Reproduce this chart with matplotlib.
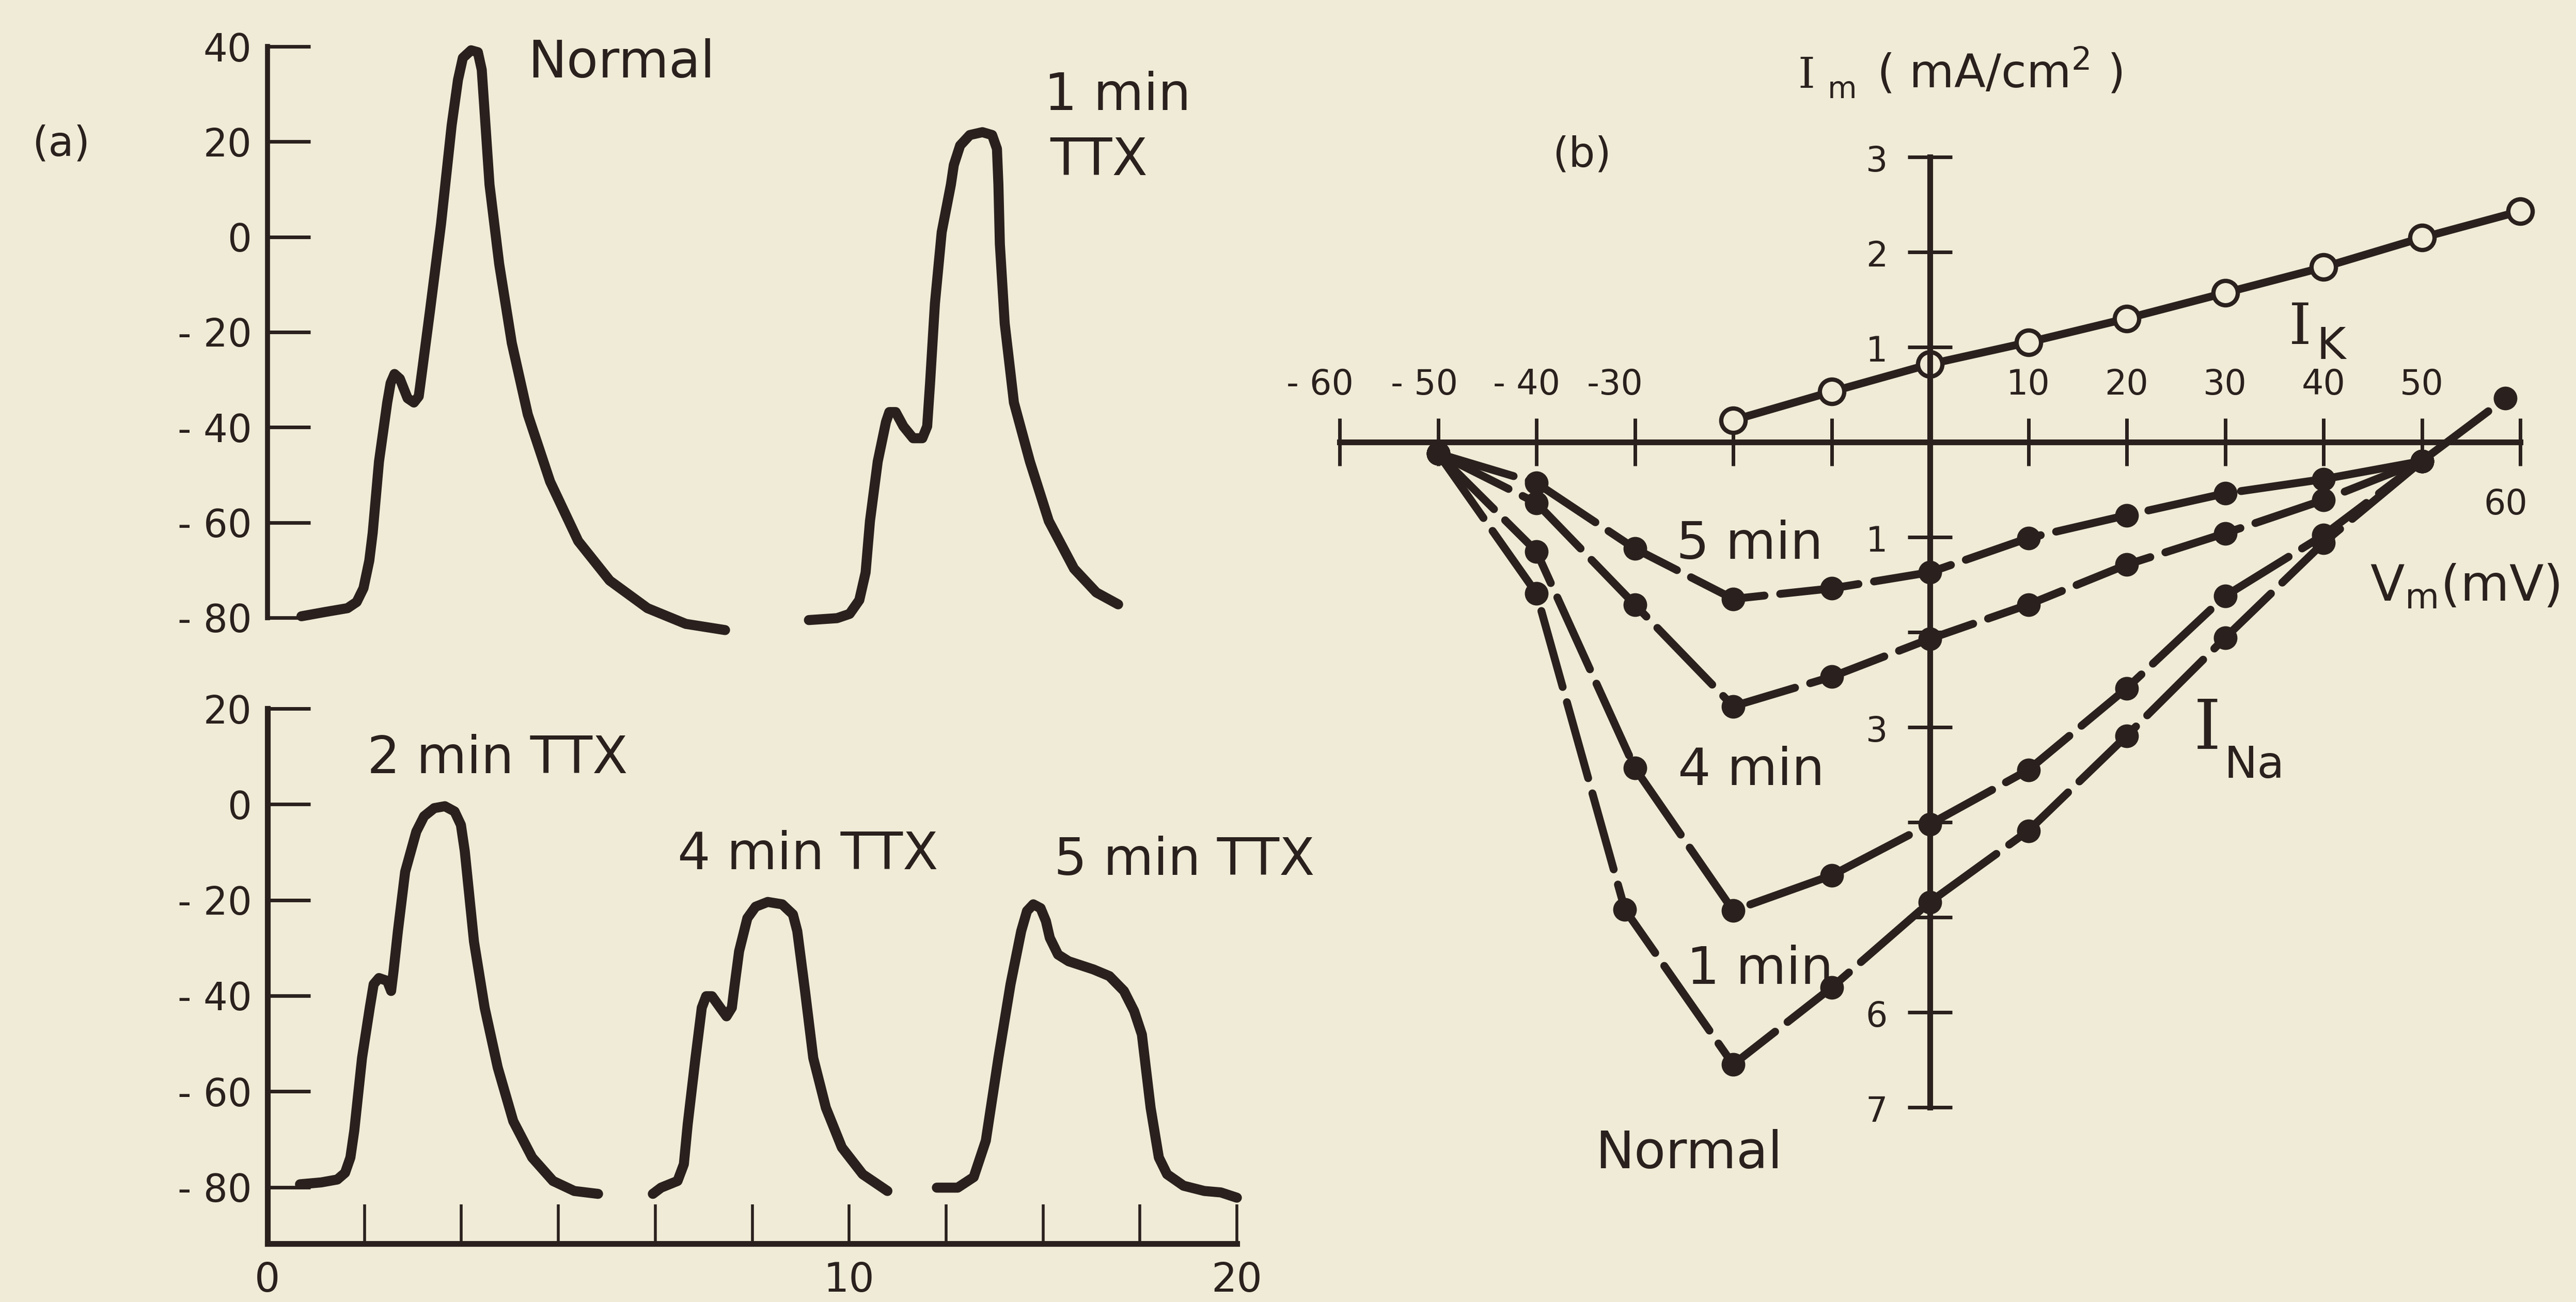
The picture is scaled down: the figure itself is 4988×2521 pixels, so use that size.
import numpy as np
import matplotlib.pyplot as plt

BG = '#efebd6'
INK = '#2a211e'

# ---- panel (a): action potentials (time in tick units, V in mV) ----
t_normal = [0.70, 1.19, 1.65, 1.84, 1.98, 2.10, 2.17, 2.30, 2.47, 2.54, 2.62, 2.73, 2.89, 3.02, 3.12,
            3.18, 3.35, 3.58, 3.80, 3.93, 4.03, 4.20, 4.34, 4.42, 4.47, 4.58, 4.78, 5.04, 5.37, 5.83,
            6.41, 7.06, 7.84, 8.63, 9.44]
v_normal = [-79.7, -78.8, -78.0, -76.7, -73.8, -68.0, -62.2, -47.2, -34.8, -30.7, -28.8, -29.8, -33.9,
            -34.8, -33.5, -28.9, -15.7, 2.7, 23.5, 33.0, 37.6, 39.2, 38.8, 35.1, 27.6, 11.0, -5.7,
            -22.3, -37.3, -51.4, -63.9, -72.2, -78.0, -81.3, -82.6]

t_1min = [11.17, 11.75, 12.01, 12.21, 12.34, 12.43, 12.59, 12.76, 12.83, 12.96, 13.12, 13.32, 13.51,
          13.61, 13.67, 13.77, 13.91, 14.10, 14.16, 14.29, 14.49, 14.75, 14.95, 15.05, 15.08, 15.11,
          15.21, 15.40, 15.73, 16.12, 16.64, 17.10, 17.55]
v_1min = [-80.5, -80.1, -79.2, -76.3, -70.5, -59.7, -47.2, -38.9, -36.8, -36.8, -39.8, -42.3, -42.3,
          -39.8, -30.7, -14.0, 1.0, 11.0, 15.1, 19.2, 21.4, 22.0, 21.4, 18.5, 11.0, -1.5, -18.2,
          -34.8, -47.2, -59.7, -69.7, -74.7, -77.2]

t_2min = [0.67, 1.11, 1.44, 1.60, 1.71, 1.79, 1.95, 2.11, 2.19, 2.30, 2.47, 2.55, 2.60, 2.69, 2.84,
          3.07, 3.23, 3.44, 3.66, 3.86, 3.99, 4.07, 4.26, 4.48, 4.75, 5.07, 5.46, 5.89, 6.33, 6.82]
v_2min = [-79.4, -79.0, -78.4, -77.0, -73.8, -68.2, -53.0, -42.5, -37.6, -36.3, -36.9, -39.0, -34.9,
          -26.5, -14.1, -5.7, -2.5, -0.8, -0.4, -1.5, -4.3, -9.8, -28.7, -42.5, -55.0, -66.2, -73.8,
          -78.7, -80.8, -81.4]

t_4min = [7.95, 8.12, 8.46, 8.59, 8.67, 8.83, 8.96, 9.05, 9.17, 9.34, 9.47, 9.58, 9.64, 9.73, 9.90,
          10.07, 10.32, 10.62, 10.84, 10.93, 11.09, 11.26, 11.52, 11.85, 12.28, 12.79]
v_4min = [-81.4, -80.1, -78.7, -75.2, -66.8, -53.0, -42.5, -40.1, -40.1, -42.5, -44.3, -42.5, -37.6,
          -30.7, -23.8, -21.4, -20.4, -20.9, -23.0, -26.5, -39.0, -53.0, -63.4, -71.7, -77.3, -80.8]

t_5min = [13.81, 14.24, 14.57, 14.82, 15.08, 15.33, 15.55, 15.67, 15.80, 15.95, 16.06, 16.14, 16.31,
          16.53, 17.04, 17.37, 17.67, 17.88, 18.04, 18.22, 18.39, 18.56, 18.90, 19.33, 19.67, 20.0]
v_5min = [-80.1, -80.1, -77.9, -70.3, -53.0, -37.6, -26.5, -22.3, -20.9, -21.7, -24.4, -27.9, -31.4,
          -32.8, -34.5, -35.9, -39.0, -43.2, -48.1, -63.4, -73.8, -77.3, -79.7, -80.8, -81.1, -82.2]

top_yticks = [40, 20, 0, -20, -40, -60, -80]
top_ylabels = ['40', '20', '0', '- 20', '- 40', '- 60', '- 80']
bot_yticks = [20, 0, -20, -40, -60, -80]
bot_ylabels = ['20', '0', '- 20', '- 40', '- 60', '- 80']
time_ticks = list(range(0, 21, 2))
time_labels = ['0', '', '', '', '', '', '10', '', '', '', '20']

# ---- panel (b): current-voltage relations ----
v_na = [-50, -40, -30, -20, -10, 0, 10, 20, 30, 40, 50]
ina_5min = [-0.12, -0.43, -1.12, -1.65, -1.54, -1.37, -1.01, -0.77, -0.54, -0.39, -0.2]
ina_4min = [-0.12, -0.64, -1.71, -2.78, -2.47, -2.07, -1.71, -1.29, -0.96, -0.61, -0.2]
ina_1min = [-0.12, -1.15, -3.43, -4.93, -4.56, -4.02, -3.45, -2.59, -1.62, -0.98, -0.2]
v_na_normal = [-50, -40, -31, -20, -10, 0, 10, 20, 30, 40, 50, 58.5]
ina_normal = [-0.12, -1.59, -4.92, -6.55, -5.74, -4.84, -4.09, -3.09, -2.06, -1.06, -0.2, 0.46]

v_k = [-20, -10, 0, 10, 20, 30, 40, 50, 60]
ik = [0.23, 0.53, 0.82, 1.05, 1.30, 1.57, 1.84, 2.15, 2.43]

vm_ticks = [-60, -50, -40, -30, -20, -10, 10, 20, 30, 40, 50, 60]
im_ticks = [-7, -6, -5, -4, -3, -2, -1, 1, 2, 3]

W, H = 4988, 2521


def box(x0, y0, x1, y1):
    # pixel box of the page -> figure fraction
    return [x0 / W, 1 - y1 / H, (x1 - x0) / W, (y1 - y0) / H]


fig = plt.figure(figsize=(W / 100, H / 100), dpi=100)
fig.patch.set_facecolor(BG)
plt.rcParams['font.family'] = 'DejaVu Sans'

trace = dict(color=INK, lw=14, solid_capstyle='round', solid_joinstyle='round', clip_on=False)
lab = dict(color=INK, fontsize=72, va='baseline', ha='left')

# top part of (a)
ax1 = fig.add_axes(box(518, 90, 2395, 1196))
ax1.set_facecolor('none')
ax1.plot(t_normal, v_normal, **trace)
ax1.plot(t_1min, v_1min, **trace)
ax1.set_xlim(0, 20)
ax1.set_ylim(-80, 40)
for s in ['top', 'right', 'bottom']:
    ax1.spines[s].set_visible(False)
ax1.spines['left'].set_linewidth(7)
ax1.spines['left'].set_color(INK)
ax1.set_xticks([])
ax1.set_yticks(top_yticks)
ax1.set_yticklabels(top_ylabels)
ax1.tick_params(axis='y', direction='in', length=60, width=5, pad=22, labelsize=53, colors=INK)
ax1.text(5.37, 33.5, 'Normal', **lab)
ax1.text(16.03, 26.7, '1 min', **lab)
ax1.text(16.15, 13.0, 'TTX', **lab)

# bottom part of (a)
ax2 = fig.add_axes(box(518, 1372, 2395, 2408))
ax2.set_facecolor('none')
ax2.plot(t_2min, v_2min, **trace)
ax2.plot(t_4min, v_4min, **trace)
ax2.plot(t_5min, v_5min, **trace)
ax2.set_xlim(0, 20)
ax2.set_ylim(-91.8, 20)
for s in ['top', 'right']:
    ax2.spines[s].set_visible(False)
for s in ['left', 'bottom']:
    ax2.spines[s].set_linewidth(8)
    ax2.spines[s].set_color(INK)
ax2.set_yticks(bot_yticks)
ax2.set_yticklabels(bot_ylabels)
ax2.set_xticks(time_ticks)
ax2.set_xticklabels(time_labels)
ax2.tick_params(axis='y', direction='in', length=60, width=5, pad=22, labelsize=53, colors=INK)
ax2.tick_params(axis='x', direction='in', length=55, width=4, pad=24, labelsize=56, colors=INK)
ax2.text(2.06, 6.5, '2 min TTX', **lab)
ax2.text(8.46, -13.6, '4 min TTX', **lab)
ax2.text(16.23, -14.8, '5 min TTX', **lab)

fig.text(118 / W, 1 - 279 / H, '(a)', fontsize=58, color=INK, ha='center', va='center')

# (b)
ax3 = fig.add_axes(box(2594, 304, 4880, 2144))
ax3.set_facecolor('none')
na_style = dict(color=INK, lw=11, ls=(0, (10, 2)), marker='o', ms=32, mfc=INK, mec=INK,
                dash_capstyle='round', clip_on=False)
ax3.plot(v_na, ina_5min, **na_style)
ax3.plot(v_na, ina_4min, **na_style)
ax3.plot(v_na, ina_1min, **na_style)
ax3.plot(v_na_normal, ina_normal, **na_style)
ax3.plot(v_k, ik, '-', color=INK, lw=11, marker='o', ms=34, mfc=BG, mec=INK, mew=6, clip_on=False)
ax3.set_xlim(-60, 60)
ax3.set_ylim(-7, 3)
for s in ['top', 'right']:
    ax3.spines[s].set_visible(False)
ax3.spines['left'].set_position(('data', 0))
ax3.spines['bottom'].set_position(('data', 0))
for s in ['left', 'bottom']:
    ax3.spines[s].set_linewidth(8)
    ax3.spines[s].set_color(INK)
ax3.set_xticks(vm_ticks)
ax3.set_yticks(im_ticks)
ax3.tick_params(axis='x', direction='inout', length=66, width=5, labelbottom=False, colors=INK)
ax3.tick_params(axis='y', direction='inout', length=62, width=5, labelleft=False, colors=INK)

num = dict(color=INK, fontsize=48)
for v, txt in [(-62.0, '- 60'), (-51.4, '- 50'), (-41.0, '- 40'), (-32.0, '-30'),
               (10, '10'), (20, '20'), (30, '30'), (40, '40'), (50, '50')]:
    ax3.text(v, 0.5, txt, ha='center', va='baseline', **num)
ax3.text(58.5, -0.48, '60', ha='center', va='top', **num)
for i, txt in [(3, '3'), (2, '2'), (1, '1'), (-1, '1'), (-3, '3'), (-6, '6'), (-7, '7')]:
    ax3.text(-4.3, i - 0.05, txt, ha='right', va='center', **num)

ax3.text(-35.4, 3.02, '(b)', fontsize=58, color=INK, ha='center', va='center')
ax3.text(-13.4, 3.73, 'I', family='DejaVu Serif', fontsize=60, color=INK, va='baseline')
ax3.text(-10.4, 3.62, 'm', fontsize=42, color=INK, va='baseline')
ax3.text(-5.4, 3.73, '( mA/cm$^{2}$ )', fontsize=64, color=INK, va='baseline')

ax3.text(36.5, 1.03, 'I', family='DejaVu Serif', fontsize=80, color=INK, va='baseline')
ax3.text(39.3, 0.875, 'K', fontsize=62, color=INK, va='baseline')
ax3.text(26.8, -3.23, 'I', family='DejaVu Serif', fontsize=96, color=INK, va='baseline')
ax3.text(29.9, -3.53, 'Na', fontsize=62, color=INK, va='baseline')
ax3.text(44.7, -1.67, r'V$_{\mathrm{m}}$(mV)', fontsize=70, color=INK, va='baseline')

ax3.text(-25.8, -1.23, '5 min', **lab)
ax3.text(-25.6, -3.61, '4 min', **lab)
ax3.text(-24.7, -5.70, '1 min', **lab)
ax3.text(-34.0, -7.64, 'Normal', **lab)

fig.savefig('out.png', dpi=100, facecolor=BG)
